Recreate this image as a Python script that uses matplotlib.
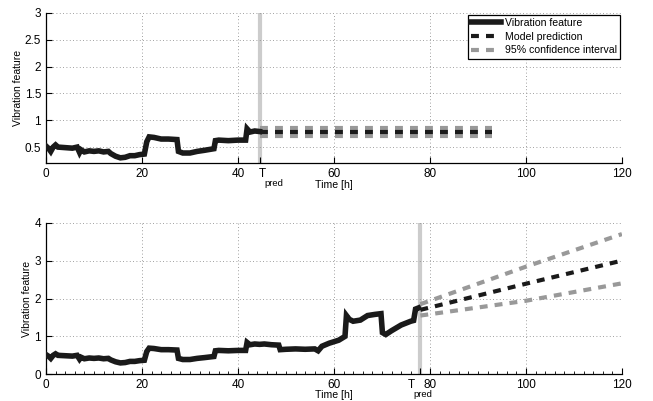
import numpy as np
import matplotlib
matplotlib.use("Agg")
import matplotlib.pyplot as plt
import matplotlib.transforms as mtransforms
from matplotlib.ticker import MultipleLocator

plt.rcParams['font.family'] = ['Liberation Sans', 'DejaVu Sans']

t_obs = [0, 0.6, 1.0, 1.5, 2.0, 2.5, 4, 5.5, 6.5, 7.0, 7.3, 8, 9, 10, 11, 12, 13,
         13.5, 14.5, 15.5, 16.5, 17.5, 18.5, 19.5, 20.5, 21.0, 21.5, 22.5, 24, 25.5,
         27.3, 27.6, 28.5, 30, 31.5, 33, 35, 35.3, 36, 38, 40, 41.6, 41.9, 42.5, 43.5,
         44.5, 45.5, 47, 48.5, 48.8, 50, 52, 54, 56, 56.7, 57.5, 59, 61, 62.3, 62.6,
         63.2, 64, 65.5, 67, 68.5, 69.8, 70.1, 70.8, 72, 74, 76, 76.6, 77.0, 77.6]
v_obs = [0.52, 0.47, 0.42, 0.50, 0.54, 0.50, 0.49, 0.48, 0.50, 0.40, 0.45, 0.41, 0.43,
         0.42, 0.43, 0.41, 0.42, 0.38, 0.33, 0.30, 0.31, 0.34, 0.34, 0.36, 0.37, 0.60,
         0.69, 0.68, 0.65, 0.65, 0.64, 0.42, 0.39, 0.39, 0.42, 0.44, 0.47, 0.62, 0.63,
         0.62, 0.63, 0.63, 0.84, 0.78, 0.80, 0.79, 0.80, 0.78, 0.77, 0.65, 0.66, 0.67,
         0.66, 0.67, 0.62, 0.74, 0.82, 0.90, 1.00, 1.55, 1.45, 1.40, 1.43, 1.55, 1.58,
         1.60, 1.10, 1.05, 1.15, 1.30, 1.40, 1.42, 1.72, 1.75]

# first prediction (T_pred = 44.5 h)
tp1 = 44.5
t_pred1 = [44.5, 93]
m_pred1 = [0.78, 0.78]
lo_pred1 = [0.71, 0.71]
hi_pred1 = [0.86, 0.86]

# second prediction (T_pred = 78 h)
tp2 = 78
t_pred2 = [78, 100, 120]
m_pred2 = [1.70, 2.39, 3.00]
lo_pred2 = [1.55, 1.94, 2.40]
hi_pred2 = [1.85, 2.84, 3.70]

t_obs = np.array(t_obs)
v_obs = np.array(v_obs)

dark = '#1a1a1a'
ci_col = '#999999'
vline_col = '#cccccc'
tick_fs = 8.5
pad = 3.5

fig = plt.figure(figsize=(6.53, 4.01), dpi=100)
ax1 = fig.add_axes([0.0704, 0.593, 0.882, 0.375])
ax2 = fig.add_axes([0.0704, 0.0666, 0.882, 0.378])


def style(ax, tp, ylim, yticks, label_y, t_dx, minor=False):
    ax.set_xlim(0, 120)
    ax.set_ylim(*ylim)
    ax.set_yticks(yticks)
    ax.set_yticklabels([('%g' % y) for y in yticks])
    ticks = sorted([0, 20, 40, 60, 80, 100, 120, tp])
    ax.set_xticks(ticks)
    ax.set_xticklabels(['' if t == tp else '%d' % t for t in ticks])
    for sp in ['top', 'right']:
        ax.spines[sp].set_visible(False)
    ax.spines['left'].set_linewidth(0.9)
    ax.spines['bottom'].set_linewidth(0.9)
    ax.tick_params(direction='in', length=4, width=0.8, labelsize=tick_fs, pad=pad)
    if minor:
        ax.xaxis.set_minor_locator(MultipleLocator(2))
        ax.tick_params(axis='x', which='minor', direction='in', length=2, width=0.6)
    ax.grid(True, which='major', linestyle=(0, (1, 3)), color='0.5', linewidth=0.6)
    for t, gl in zip(ticks, ax.get_xgridlines()):
        if t == tp:
            gl.set_visible(False)
    ax.set_ylabel('Vibration feature', fontsize=7.5, labelpad=1.5)
    ax.set_xlabel('Time [h]', fontsize=7.6)
    ax.xaxis.set_label_coords(0.5, label_y)
    # T_pred tick label: big T with a low subscript
    trans = mtransforms.blended_transform_factory(ax.transData, ax.transAxes)
    ax.annotate('T', xy=(tp, 0), xycoords=trans, xytext=(t_dx, -pad),
                textcoords='offset points', ha='center', va='top', fontsize=tick_fs)
    ax.annotate('pred', xy=(tp, 0), xycoords=trans, xytext=(t_dx + 1.4, -pad - 7.6),
                textcoords='offset points', ha='left', va='top', fontsize=6.8)


style(ax1, tp1, (0.2, 3), [0.5, 1, 1.5, 2, 2.5, 3], -0.11, 1.8)
style(ax2, tp2, (0, 4), [0, 1, 2, 3, 4], -0.105, -6.2, minor=True)

dash = (1.9, 1.7)

# top panel
m1 = t_obs <= tp1
ax1.axvline(tp1, color=vline_col, linewidth=3, zorder=1)
ax1.plot(t_obs[m1], v_obs[m1], color=dark, linewidth=4, solid_joinstyle='miter',
         label='Vibration feature', zorder=3)
ax1.plot(t_pred1, hi_pred1, color=ci_col, linewidth=3, dashes=dash,
         label='95% confidence interval', zorder=2)
ax1.plot(t_pred1, lo_pred1, color=ci_col, linewidth=3, dashes=dash, zorder=2)
ax1.plot(t_pred1, m_pred1, color=dark, linewidth=3, dashes=dash,
         label='Model prediction', zorder=3)

h, l = ax1.get_legend_handles_labels()
order = [0, 2, 1]
leg = ax1.legend([h[i] for i in order], [l[i] for i in order], loc='upper right',
                 fontsize=7.6, frameon=True, fancybox=False, edgecolor='black',
                 framealpha=1, borderaxespad=0.2, handlelength=2.8,
                 handletextpad=0.35, labelspacing=0.35, borderpad=0.3)
leg.get_frame().set_linewidth(0.9)

# bottom panel
ax2.axvline(tp2, color=vline_col, linewidth=3, zorder=1)
ax2.plot(t_obs, v_obs, color=dark, linewidth=4, solid_joinstyle='miter', zorder=3)
ax2.plot(t_pred2, hi_pred2, color=ci_col, linewidth=3, dashes=dash, zorder=2)
ax2.plot(t_pred2, lo_pred2, color=ci_col, linewidth=3, dashes=dash, zorder=2)
ax2.plot(t_pred2, m_pred2, color=dark, linewidth=3, dashes=dash, zorder=3)

fig.savefig('out.png', dpi=100)
